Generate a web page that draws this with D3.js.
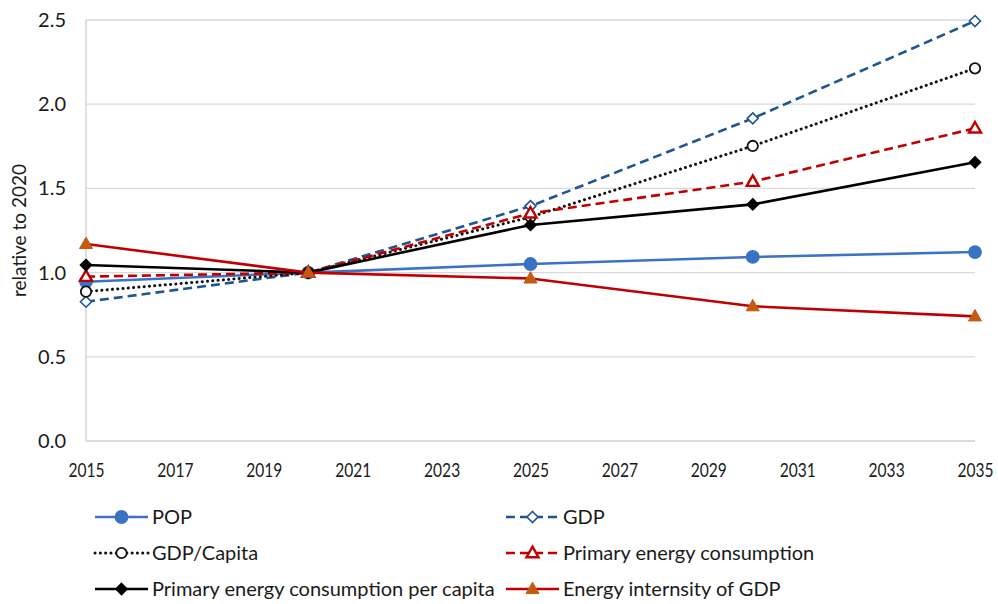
<!DOCTYPE html>
<html>
<head>
<meta charset="utf-8">
<script src="https://cdn.jsdelivr.net/npm/d3@7"></script>
<style>
  html, body { margin: 0; padding: 0; background: #fff; }
  svg text { font-family: Lato, "Open Sans", sans-serif; fill: #1a1a1a; }
</style>
</head>
<body>
<svg id="chart" width="998" height="604"></svg>
<script>
// Index values relative to 2020
const years = [2015, 2020, 2025, 2030, 2035];
const pop = [0.946, 1.0, 1.051, 1.093, 1.122];
const gdp = [0.827, 1.0, 1.395, 1.916, 2.494];
const gdpPerCapita = [0.887, 1.0, 1.33, 1.752, 2.213];
const primaryEnergy = [0.976, 1.0, 1.352, 1.54, 1.857];
const primaryEnergyPerCapita = [1.045, 1.0, 1.283, 1.405, 1.655];
const energyIntensity = [1.17, 1.0, 0.965, 0.80, 0.74];

const xTicks = [2015, 2017, 2019, 2021, 2023, 2025, 2027, 2029, 2031, 2033, 2035];
const yTicks = [0, 0.5, 1.0, 1.5, 2.0, 2.5];

const seriesNames = ["POP", "GDP", "GDP/Capita", "Primary energy consumption",
  "Primary energy consumption per capita", "Energy internsity of GDP"];
const seriesValues = [pop, gdp, gdpPerCapita, primaryEnergy, primaryEnergyPerCapita, energyIntensity];

// Visual style per series
const styles = [
  { line: "#3a72c4", dash: null, marker: "circle", fill: "#3a72c4", stroke: "#3a72c4", r: 6 },
  { line: "#1f5591", dash: "9,5", marker: "diamond", fill: "#fff", stroke: "#1f5591", r: 5.5 },
  { line: "#111", dash: "0.1,5.2", dotted: true, marker: "circle", fill: "#fff", stroke: "#111", r: 5.2 },
  { line: "#c00000", dash: "9,5", marker: "triangle", fill: "#fff", stroke: "#c00000", r: 6 },
  { line: "#000", dash: null, marker: "diamond", fill: "#000", stroke: "#000", r: 5.5 },
  { line: "#c00000", dash: null, marker: "triangle", fill: "#c55a11", stroke: "#c55a11", r: 6.5 }
];

const svg = d3.select("#chart");
const margin = { left: 86, right: 23, top: 20, bottom: 163 };
const W = 998, H = 604;

const x = d3.scaleLinear().domain([2015, 2035]).range([margin.left, W - margin.right]);
const y = d3.scaleLinear().domain([0, 2.5]).range([H - margin.bottom, margin.top]);

// Horizontal gridlines
svg.append("g")
  .selectAll("line")
  .data(yTicks.filter(d => d > 0))
  .join("line")
  .attr("x1", x(2015)).attr("x2", x(2035))
  .attr("y1", d => y(d)).attr("y2", d => y(d))
  .attr("stroke", "#d9d9d9").attr("stroke-width", 1.3);

// Axis lines
svg.append("line")
  .attr("x1", x(2015)).attr("x2", x(2035))
  .attr("y1", y(0)).attr("y2", y(0))
  .attr("stroke", "#d0d0d0").attr("stroke-width", 1.3);
svg.append("line")
  .attr("x1", x(2015)).attr("x2", x(2015))
  .attr("y1", y(0)).attr("y2", y(2.5))
  .attr("stroke", "#d0d0d0").attr("stroke-width", 1.3);

// Y axis labels
const yAxis = d3.axisLeft(y).tickValues(yTicks).tickFormat(d3.format(".1f")).tickSize(0).tickPadding(20);
const gy = svg.append("g").attr("transform", `translate(${x(2015)},0)`).call(yAxis);
gy.select(".domain").remove();
gy.selectAll("text").style("font-size", "20px").style("font-family", "Lato, sans-serif").attr("fill", "#1a1a1a");

// X axis labels (condensed)
const xAxis = d3.axisBottom(x).tickValues(xTicks).tickFormat(d3.format("d")).tickSize(0).tickPadding(0);
const gx = svg.append("g").attr("transform", `translate(0,${y(0)})`).call(xAxis);
gx.select(".domain").remove();
gx.selectAll(".tick text")
  .attr("y", 0).attr("dy", 0)
  .attr("transform", "translate(0,36) scale(0.82,1)")
  .style("font-size", "19px").style("font-family", "Lato, sans-serif").attr("fill", "#1a1a1a");

// Y axis title
svg.append("text")
  .attr("transform", `translate(26,${(y(0) + y(2.5)) / 2 + 0}) rotate(-90)`)
  .attr("text-anchor", "middle")
  .style("font-size", "19px")
  .text("relative to 2020");

function drawMarker(g, type, cx, cy, st) {
  const r = st.r;
  if (type === "circle") {
    g.append("circle").attr("cx", cx).attr("cy", cy).attr("r", r)
      .attr("fill", st.fill).attr("stroke", st.stroke).attr("stroke-width", 1.8);
  } else if (type === "diamond") {
    g.append("path")
      .attr("d", `M${cx},${cy - r}L${cx + r},${cy}L${cx},${cy + r}L${cx - r},${cy}Z`)
      .attr("fill", st.fill).attr("stroke", st.stroke).attr("stroke-width", 1.6);
  } else {
    const h = r * 1.75;
    g.append("path")
      .attr("d", `M${cx},${cy - h * 0.6}L${cx + r},${cy + h * 0.4}L${cx - r},${cy + h * 0.4}Z`)
      .attr("fill", st.fill).attr("stroke", st.stroke).attr("stroke-width", st.fill === "#fff" ? 2.4 : 1);
  }
}

const line = d3.line().x(d => x(d[0])).y(d => y(d[1]));

seriesValues.forEach((vals, i) => {
  const st = styles[i];
  const pts = years.map((yr, j) => [yr, vals[j]]);
  const g = svg.append("g");
  g.append("path")
    .attr("d", line(pts))
    .attr("fill", "none")
    .attr("stroke", st.line)
    .attr("stroke-width", st.dotted ? 3 : 2.6)
    .attr("stroke-dasharray", st.dash)
    .attr("stroke-linecap", st.dotted ? "round" : "butt");
  pts.forEach(p => drawMarker(g, st.marker, x(p[0]), y(p[1]), st));
});

// Legend, two columns by three rows
const legendCols = [95, 506];
const legendRows = [517, 553, 589];
seriesNames.forEach((name, i) => {
  const st = styles[i];
  const lx = legendCols[i % 2];
  const ly = legendRows[Math.floor(i / 2)];
  const g = svg.append("g");
  g.append("line")
    .attr("x1", lx).attr("x2", lx + 53).attr("y1", ly).attr("y2", ly)
    .attr("stroke", st.line).attr("stroke-width", st.dotted ? 3 : 2.6)
    .attr("stroke-dasharray", st.dash)
    .attr("stroke-linecap", st.dotted ? "round" : "butt");
  drawMarker(g, st.marker, lx + 26.5, ly, st);
  g.append("text")
    .attr("x", lx + 57).attr("y", ly + 7)
    .style("font-size", "20px")
    .text(name);
});
</script>
</body>
</html>
